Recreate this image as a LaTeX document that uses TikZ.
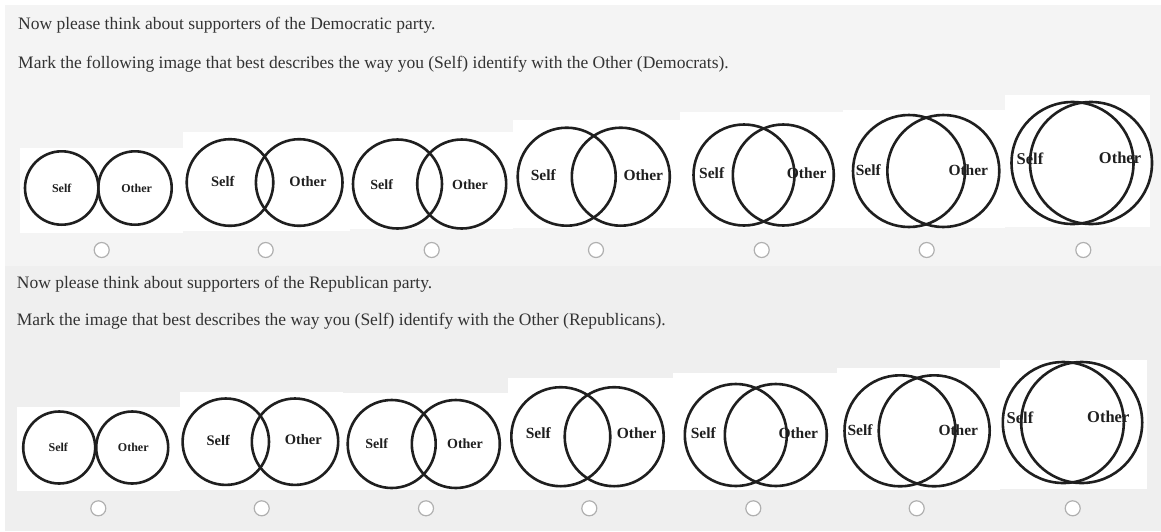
\documentclass[tikz,border=0pt]{standalone}
\usepackage{fontspec}
\setmainfont{Liberation Serif}
\definecolor{panelA}{HTML}{F4F4F4}
\definecolor{panelB}{HTML}{EFEFEF}
\definecolor{txt}{HTML}{333333}
\definecolor{radio}{HTML}{B0B0B0}
\tikzset{
  ring/.style={circle, draw=black!88, line width=2.6pt, inner sep=0pt, minimum size=#1},
  lbl/.style={inner sep=0pt, text=black!88, font=\bfseries\fontsize{#1}{#1}\selectfont},
  radiobtn/.style={circle, draw=radio, fill=white, line width=1.2pt, inner sep=0pt, minimum size=15pt},
  prompt/.style={anchor=base west, inner sep=0pt, text=txt, font=\fontsize{17.5}{21}\selectfont},
}
\newcommand\vennpic[9]{%
  % #1 name, #2 x1, #3 x2, #4 y, #5 r, #6 selfx, #7 otherx, #8 label y, #9 font size
  \node[ring=2*#5pt] (#1s) at (#2,#4) {};
  \node[ring=2*#5pt] (#1o) at (#3,#4) {};
  \node[lbl=#9] (#1ls) at (#6,#8) {Self};
  \node[lbl=#9] (#1lo) at (#7,#8) {Other};
}
\begin{document}
\begin{tikzpicture}[x=1pt,y=-1pt]
\useasboundingbox (0,0) rectangle (1161,531);
\fill[white] (0,0) rectangle (1161,531);
\fill[panelA] (5,5) rectangle (1161,266);
\fill[panelB] (5,266) rectangle (1161,531);
% white picture strips, top row
\fill[white] (20,148) rectangle (183,233);
\fill[white] (183,132) rectangle (350,231);
\fill[white] (350,132) rectangle (513,229);
\fill[white] (513,120) rectangle (680,228);
\fill[white] (680,112) rectangle (843,228);
\fill[white] (843,110) rectangle (1005,228);
\fill[white] (1005,95) rectangle (1150,227);
% white picture strips, bottom row
\fill[white] (17,406.7) rectangle (180,491);
\fill[white] (180,391.7) rectangle (343,490);
\fill[white] (343,393) rectangle (508,490);
\fill[white] (508,378) rectangle (673,490);
\fill[white] (673,373) rectangle (837,490);
\fill[white] (837,368) rectangle (1000,490);
\fill[white] (1000,360) rectangle (1147,489);
% prompts
\node[prompt] (p1) at (18,29) {Now please think about supporters of the Democratic party.};
\node[prompt] (p2) at (18,68.3) {Mark the following image that best describes the way you (Self) identify with the Other (Democrats).};
\node[prompt] (p3) at (16.7,288.3) {Now please think about supporters of the Republican party.};
\node[prompt] (p4) at (16.7,325) {Mark the image that best describes the way you (Self) identify with the Other (Republicans).};
% top row
\vennpic{a1}{61.7}{135}{188}{36.7}{61.7}{136.7}{188.5}{12}
\vennpic{a2}{230}{299.2}{182.5}{43.3}{222.7}{308}{181.7}{14.5}
\vennpic{a3}{397.5}{461.7}{184}{44.5}{381.7}{470}{185}{14}
\vennpic{a4}{566.7}{620.8}{176.7}{49}{543.3}{643.3}{175}{15.5}
\vennpic{a5}{744}{783.3}{175}{50.5}{711.7}{806.7}{173.3}{15.5}
\vennpic{a6}{909}{943.3}{171}{56}{868.3}{968.3}{170}{15.5}
\vennpic{a7}{1072.5}{1091}{163}{61}{1030}{1120}{158.3}{16.5}
% bottom row
\vennpic{b1}{59.2}{132.2}{447.5}{36}{58.3}{133.3}{447.5}{12}
\vennpic{b2}{225.8}{295}{441.7}{43.2}{218.3}{303.3}{440}{14.5}
\vennpic{b3}{391.7}{455.8}{444}{44}{376.7}{465}{443.3}{14}
\vennpic{b4}{560.8}{614.2}{436.7}{49.5}{538.3}{636.7}{433.3}{15.5}
\vennpic{b5}{735.8}{775.8}{435}{51}{703.3}{798.3}{433.3}{15.5}
\vennpic{b6}{900}{934.2}{430.8}{55.5}{860}{958.3}{430}{15.5}
\vennpic{b7}{1063.3}{1081.7}{422.5}{60.5}{1020}{1108.3}{417.3}{16.5}
% radio buttons
\foreach \x [count=\i] in {101.7,265.7,431.7,596,761.7,926.7,1083.3}
  \node[radiobtn] (ra\i) at (\x,250) {};
\foreach \x [count=\i] in {98.3,261.7,426,589.3,753.3,916.7,1072.7}
  \node[radiobtn] (rb\i) at (\x,508.3) {};
\end{tikzpicture}
\end{document}
